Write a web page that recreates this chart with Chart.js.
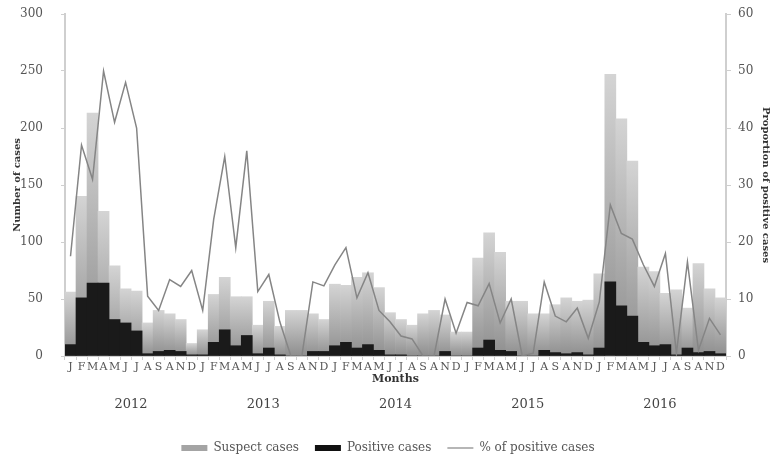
<!DOCTYPE html>
<html>
<head>
<meta charset="utf-8">
<script src="https://cdn.jsdelivr.net/npm/chart.js@4"></script>
<style>
	html, body { margin: 0; padding: 0; background: #fff; }
	#wrap { width: 776px; height: 464px; }
</style>
</head>
<body>
<div id="wrap"><canvas id="cases-chart" width="776" height="464"></canvas></div>
<script>
var monthLetters = ['J', 'F', 'M', 'A', 'M', 'J', 'J', 'A', 'S', 'A', 'N', 'D'];
var years = ['2012', '2013', '2014', '2015', '2016'];

// monthly suspect cases, Jan 2012 .. Dec 2016
var suspectCases = [
	56, 140, 213, 127, 79, 59, 57, 29, 40, 37, 32, 11,
	23, 54, 69, 52, 52, 27, 48, 26, 40, 40, 37, 32,
	63, 62, 69, 73, 60, 38, 32, 27, 37, 40, 36, 21,
	21, 86, 108, 91, 48, 48, 37, 37, 45, 51, 48, 49,
	72, 247, 208, 171, 78, 74, 55, 58, 42, 81, 59, 51
];
var positiveCases = [
	10, 51, 64, 64, 32, 29, 22, 2, 4, 5, 4, 1,
	1, 12, 23, 9, 18, 2, 7, 1, 0, 0, 4, 4,
	9, 12, 7, 10, 5, 1, 1, 0, 0, 0, 4, 0,
	0, 7, 14, 5, 4, 0, 0, 5, 3, 2, 3, 1,
	7, 65, 44, 35, 12, 9, 10, 1, 7, 3, 4, 2
];
var positivePct = [
	17.5, 37, 31, 50, 41, 48, 40, 10.5, 8, 13.4, 12.2, 15,
	8, 24, 35, 19, 36, 11.3, 14.3, 6, 0, 0, 13, 12.3,
	16, 19, 10.2, 14.6, 8, 6, 3.5, 3, 0, 0, 10, 4,
	9.4, 8.8, 12.7, 5.8, 10, 0, 0.5, 13, 7, 6, 8.4, 3.1,
	9.5, 26.5, 21.5, 20.5, 16, 12.2, 18, 0.5, 16.5, 1, 6.6, 3.7
];

var labels = [];
for (var y = 0; y < years.length; y++) {
	for (var m = 0; m < monthLetters.length; m++) {
		labels.push(monthLetters[m]);
	}
}

var serif = "'DejaVu Serif', 'Liberation Serif', serif";
var textGrey = '#555';
var axisGrey = '#cfcfcf';

// each suspect bar is shaded light at the top to darker at the base
function suspectFill(c) {
	var chart = c.chart;
	if (!chart.chartArea || c.type !== 'data') return '#a8a8a8';
	var ys = chart.scales.y;
	var top = ys.getPixelForValue(c.raw);
	var base = ys.getPixelForValue(0);
	if (!isFinite(top) || base - top < 1) return '#a8a8a8';
	var g = chart.ctx.createLinearGradient(0, top, 0, base);
	g.addColorStop(0, '#d4d4d4');
	g.addColorStop(1, '#8e8e8e');
	return g;
}

var ctx = document.getElementById('cases-chart').getContext('2d');
var casesChart = new Chart(ctx, {
	type: 'bar',
	data: {
		labels: labels,
		datasets: [{
			label: 'Suspect cases',
			data: suspectCases,
			backgroundColor: suspectFill,
			grouped: false,
			barPercentage: 1,
			categoryPercentage: 1,
			order: 2,
			yAxisID: 'y'
		}, {
			label: 'Positive cases',
			data: positiveCases,
			backgroundColor: '#1a1a1a',
			grouped: false,
			barPercentage: 1,
			categoryPercentage: 1,
			order: 1,
			yAxisID: 'y'
		}, {
			type: 'line',
			label: '% of positive cases',
			data: positivePct,
			borderColor: '#858585',
			backgroundColor: '#858585',
			borderWidth: 1.5,
			pointRadius: 0,
			tension: 0,
			order: 0,
			yAxisID: 'y1'
		}]
	},
	options: {
		responsive: false,
		animation: false,
		layout: { padding: 0 },
		plugins: {
			tooltip: { enabled: false },
			legend: {
				position: 'bottom',
				labels: {
					usePointStyle: true,
					pointStyleWidth: 26,
					boxHeight: 6,
					padding: 16,
					color: textGrey,
					font: { family: serif, size: 12 },
					sort: function(a, b) { return a.datasetIndex - b.datasetIndex; },
					generateLabels: function(chart) {
						var items = Chart.defaults.plugins.legend.labels.generateLabels(chart);
						items.forEach(function(it) {
							if (it.datasetIndex === 0) {
								it.pointStyle = 'rect';
								it.fillStyle = '#a4a4a4';
								it.strokeStyle = '#a4a4a4';
								it.lineWidth = 0;
							} else if (it.datasetIndex === 1) {
								it.pointStyle = 'rect';
								it.fillStyle = '#111';
								it.strokeStyle = '#111';
								it.lineWidth = 0;
							} else {
								it.pointStyle = 'line';
								it.strokeStyle = '#858585';
								it.lineWidth = 1.2;
							}
						});
						return items;
					}
				}
			}
		},
		scales: {
			x: {
				weight: 0,
				offset: true,
				afterFit: function(s) { s.height = 30; },
				grid: { display: true, drawOnChartArea: false, offset: true, tickLength: 4, color: axisGrey },
				border: { color: axisGrey },
				ticks: {
					autoSkip: false,
					maxRotation: 0,
					padding: 1,
					color: textGrey,
					font: { family: serif, size: 11 }
				},
				title: {
					display: true,
					text: 'Months',
					color: '#333',
					padding: 0,
					font: { family: serif, size: 11, weight: 'bold' }
				}
			},
			x2: {
				type: 'category',
				labels: years,
				weight: 1,
				offset: true,
				position: 'bottom',
				afterFit: function(s) { s.height = 40; },
				grid: { display: false },
				border: { display: false },
				ticks: {
					padding: 3,
					color: '#444',
					font: { family: serif, size: 13 }
				}
			},
			y: {
				position: 'left',
				min: 0,
				max: 300,
				afterFit: function(s) { s.width = 65; s.paddingTop = 14; },
				grid: { drawOnChartArea: false, tickLength: 4, color: axisGrey },
				border: { color: axisGrey, width: 2 },
				ticks: {
					stepSize: 50,
					padding: 18,
					color: textGrey,
					font: { family: serif, size: 12 }
				},
				title: {
					display: true,
					text: 'Number of cases',
					color: '#333',
					padding: { top: 11, bottom: 0 },
					font: { family: serif, size: 10, weight: 'bold' }
				}
			},
			y1: {
				position: 'right',
				min: 0,
				max: 60,
				afterFit: function(s) { s.width = 50; s.paddingTop = 14; },
				grid: { drawOnChartArea: false, tickLength: 5, color: axisGrey },
				border: { color: axisGrey, width: 2 },
				ticks: {
					stepSize: 10,
					padding: 7,
					color: textGrey,
					font: { family: serif, size: 12 }
				},
				title: {
					display: true,
					text: 'Proportion of positive cases',
					color: '#333',
					padding: { top: 4, bottom: 0 },
					font: { family: serif, size: 10, weight: 'bold' }
				}
			}
		}
	}
});
</script>
</body>
</html>
